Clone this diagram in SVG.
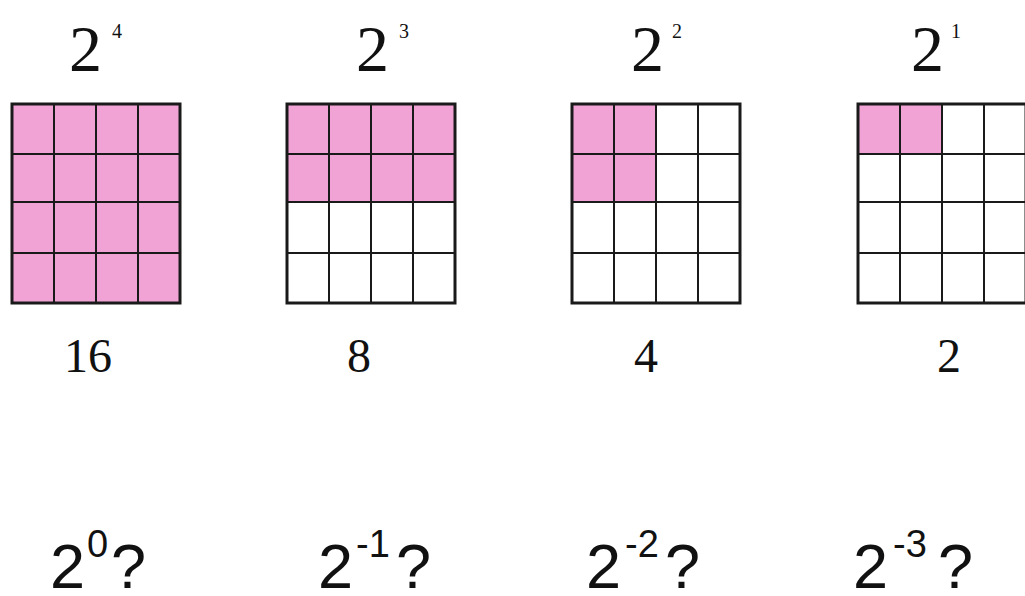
<svg xmlns="http://www.w3.org/2000/svg" width="1025" height="596" viewBox="0 0 1025 596">
<style>
.pink{fill:#F2A3D6;stroke:none}
.outer{fill:none;stroke:#1a1a1a;stroke-width:3}
.inner{stroke:#1a1a1a;stroke-width:2}
.tnr{font-family:"Liberation Serif",serif;fill:#111}
.big{font-size:66px}
.sup{font-size:20px}
.num{font-size:48px}
.sans{font-family:"Liberation Sans",Arial,sans-serif;fill:#111}
.q{font-size:63px}
.qs{font-size:38px}
</style>
<defs>
<g id="grid">
<path class="inner" d="M42 0V199M84 0V199M126 0V199M0 50H168M0 98H168M0 149H168"/>
<rect class="outer" x="0" y="0" width="168" height="199"/>
</g>
</defs>
<g id="node-16">
<rect class="pink" x="12" y="104" width="168" height="199"/>
<use href="#grid" x="12" y="104"/>
<text class="tnr big" x="69" y="71">2</text><text class="tnr sup" x="112" y="38">4</text>
<text class="tnr num" x="64" y="372">16</text>
</g>
<g id="node-8">
<rect class="pink" x="287" y="104" width="168" height="98"/>
<use href="#grid" x="287" y="104"/>
<text class="tnr big" x="356" y="71">2</text><text class="tnr sup" x="399" y="38">3</text>
<text class="tnr num" x="347" y="372">8</text>
</g>
<g id="node-4">
<rect class="pink" x="572" y="104" width="84" height="98"/>
<use href="#grid" x="572" y="104"/>
<text class="tnr big" x="631" y="71">2</text><text class="tnr sup" x="672" y="38">2</text>
<text class="tnr num" x="634" y="372">4</text>
</g>
<g id="node-2">
<rect class="pink" x="858" y="104" width="84" height="50"/>
<use href="#grid" x="858" y="104"/>
<text class="tnr big" x="911" y="71">2</text><text class="tnr sup" x="951" y="38">1</text>
<text class="tnr num" x="937" y="372">2</text>
</g>
<g id="q0">
<text class="sans q" x="50" y="588">2</text><text class="sans qs" x="87" y="557">0</text><text class="sans q" x="111" y="588">?</text>
</g>
<g id="q-1">
<text class="sans q" x="318" y="588">2</text><text class="sans qs" x="356" y="557">-1</text><text class="sans q" x="396" y="588">?</text>
</g>
<g id="q-2">
<text class="sans q" x="586" y="588">2</text><text class="sans qs" x="625" y="557">-2</text><text class="sans q" x="665" y="588">?</text>
</g>
<g id="q-3">
<text class="sans q" x="853" y="588">2</text><text class="sans qs" x="893" y="557">-3</text><text class="sans q" x="938" y="588">?</text>
</g>
<g id="connectors"/>
</svg>
